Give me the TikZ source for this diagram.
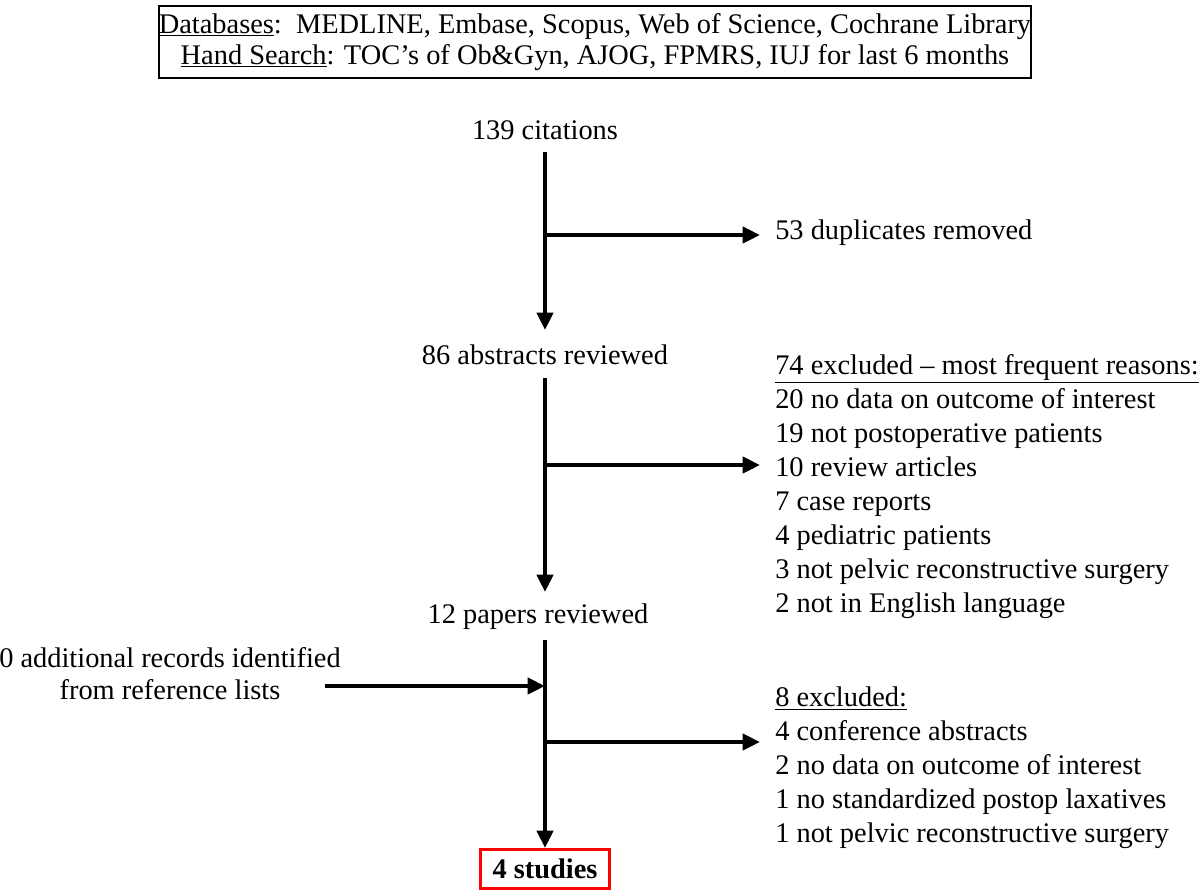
\documentclass[tikz,border=0pt]{standalone}
\usepackage{fontspec}
\setmainfont{Liberation Serif}
\usetikzlibrary{arrows.meta}
\begin{document}
\begin{tikzpicture}[x=0.75pt,y=-0.75pt,
  txt/.style={font=\fontsize{21.3}{25.5}\selectfont,inner sep=0pt},
  lst/.style={txt,anchor=west,align=left},
  ln/.style={line width=3pt},
  arr/.style={ln,-{Triangle[length=13pt,width=12pt]}}]
\useasboundingbox (0,0) rectangle (1200,893);
\node[txt,draw,line width=1.8pt,minimum width=849*0.75pt,minimum height=72*0.75pt,align=center,font=\fontsize{21.3}{23.5}\selectfont] (db) at (595,42)
 {\underline{Databases}:\ \ MEDLINE, Embase, Scopus, Web of Science, Cochrane Library\\
  \underline{Hand Search}: TOC’s of Ob\&Gyn, AJOG, FPMRS, IUJ for last 6 months};
\node[txt] (c139) at (545,130) {139 citations};
\node[txt] (a86) at (545,355) {86 abstracts reviewed};
\node[txt] (p12) at (538,617) {12 papers reviewed};
\node[txt,draw=red,line width=2.5pt,font=\fontsize{21.3}{25}\bfseries\selectfont,inner xsep=9pt,inner ysep=7pt] (s4) at (545,869) {4 studies};
\node[lst] (dup) at (775,233) {53 duplicates removed};
\node[lst,anchor=north west] (ex74) at (775,354) {\underline{74 excluded – most frequent reasons:}\\
20 no data on outcome of interest\\
19 not postoperative patients\\
10 review articles\\
7 case reports\\
4 pediatric patients\\
3 not pelvic reconstructive surgery\\
2 not in English language};
\node[lst,anchor=north west] (ex8) at (775,687) {\underline{8 excluded:}\\
4 conference abstracts\\
2 no data on outcome of interest\\
1 no standardized postop laxatives\\
1 not pelvic reconstructive surgery};
\node[txt,align=center,font=\fontsize{21.3}{24}\selectfont] (add) at (170,674) {0 additional records identified\\from reference lists};
\coordinate (b1) at (545,235);
\coordinate (b2) at (545,465);
\coordinate (b3) at (545,742);
\coordinate (m3) at (545,686);
\draw[arr] (545,152) -- (545,330);
\draw[arr] (b1) -- (760,235);
\draw[arr] (545,378) -- (545,592);
\draw[arr] (b2) -- (760,465);
\draw[arr] (545,640) -- (s4.north);
\draw[arr] (325,686) -- (m3);
\draw[arr] (b3) -- (760,742);
\end{tikzpicture}
\end{document}
